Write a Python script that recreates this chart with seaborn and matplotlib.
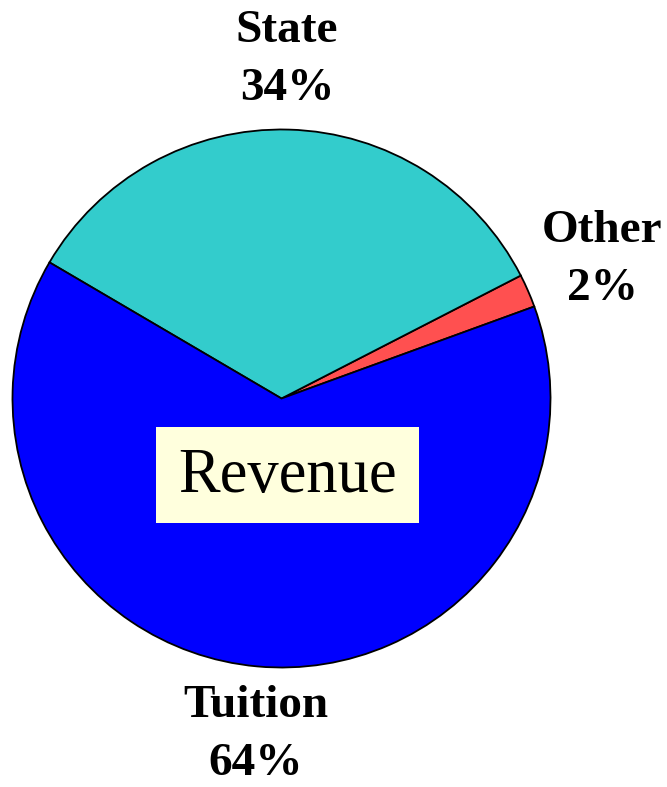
import matplotlib
matplotlib.use('Agg')
import matplotlib.pyplot as plt
from matplotlib.patches import Rectangle
import seaborn as sns

# 数据
categories = ['Other', 'State', 'Tuition']
shares = [2, 34, 64]
colors = ['#FF5050', '#33CCCC', '#0000FF']
title_text = 'Revenue'

sns.set_style('white')
plt.rcParams['font.family'] = ['Liberation Serif', 'DejaVu Serif']
plt.rcParams['text.color'] = 'black'

W, H = 667, 787
fig = plt.figure(figsize=(W / 100, H / 100), dpi=100)
ax = fig.add_axes([0, 0, 1, 1])
ax.set_xlim(0, W)
ax.set_ylim(0, H)
ax.set_aspect('equal')
ax.axis('off')

# 饼图
cx, cy, r = 281.5, H - 398.5, 269
ax.pie(shares, colors=colors, startangle=20, counterclock=True,
       center=(cx, cy), radius=r, frame=True,
       wedgeprops=dict(edgecolor='black', linewidth=1.3))
ax.set_xlim(0, W)
ax.set_ylim(0, H)
ax.axis('off')

# 标签
label_pos = {'State': (287, H - 60), 'Other': (602, H - 260), 'Tuition': (256, H - 735)}
for name, val in zip(categories, shares):
    x, y = label_pos[name]
    ax.text(x, y, f'{name}\n{val}%', ha='center', va='center', color='black',
            fontsize=34, fontweight='bold', linespacing=1.5)

# 中间标题框
ax.add_patch(Rectangle((156, H - 523), 263, 96, facecolor='#FFFFDD',
                       edgecolor='none', zorder=5))
ax.text(287.5, H - 477, title_text, ha='center', va='center', color='black',
        fontsize=45, zorder=6)

fig.savefig('out.png', dpi=100)
